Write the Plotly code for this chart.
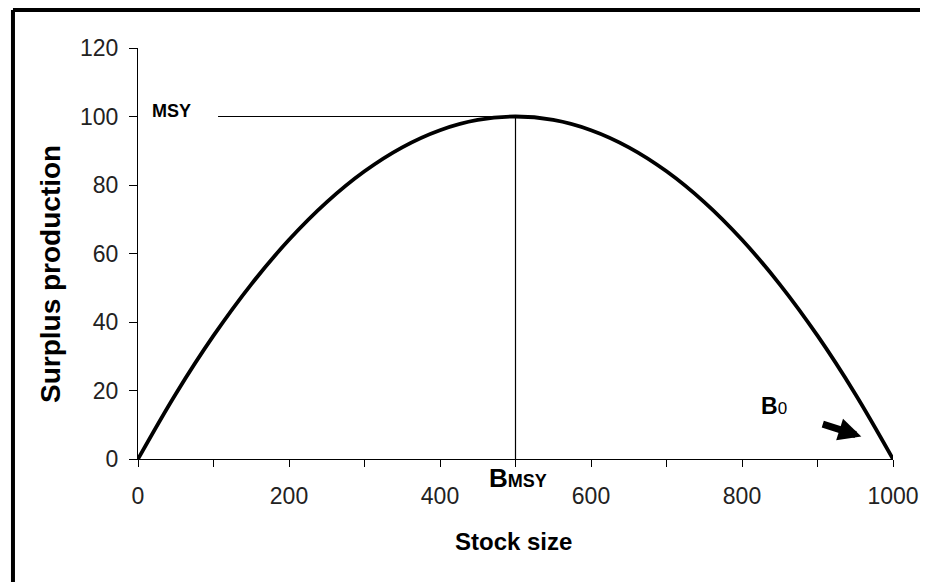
import plotly.graph_objects as go

# surplus production curve
stock_size = [0, 50, 100, 150, 200, 250, 300, 350, 400, 450, 500,
              550, 600, 650, 700, 750, 800, 850, 900, 950, 1000]
surplus = [0, 19, 36, 51, 64, 75, 84, 91, 96, 99, 100,
           99, 96, 91, 84, 75, 64, 51, 36, 19, 0]

msy = 100
b_msy = 500
msy_line_start = 106

x_ticks = [0, 100, 200, 300, 400, 500, 600, 700, 800, 900, 1000]
x_tick_text = ["0", "", "200", "", "400", "", "600", "", "800", "", "1000"]
y_ticks = [0, 20, 40, 60, 80, 100, 120]

TICK_FONT = dict(family="Liberation Sans, Arial, sans-serif", size=23, color="#222222")
BOLD = "Liberation Sans, Arial, sans-serif"

fig = go.Figure()
fig.add_trace(go.Scatter(
    x=stock_size, y=surplus, mode="lines",
    line=dict(color="black", width=3.8, shape="spline"),
    cliponaxis=False, showlegend=False, hoverinfo="skip",
))

# MSY / BMSY reference lines
fig.add_shape(type="line", x0=msy_line_start, x1=b_msy, y0=msy, y1=msy,
              line=dict(color="black", width=1.2))
fig.add_shape(type="line", x0=b_msy, x1=b_msy, y0=0, y1=msy,
              line=dict(color="black", width=1.2))

# outer frame (only top and left edges visible)
fig.add_shape(type="line", xref="paper", yref="paper",
              x0=-0.1656, x1=1.1, y0=1.0925, y1=1.0925,
              line=dict(color="black", width=4))
fig.add_shape(type="line", xref="paper", yref="paper",
              x0=-0.1656, x1=-0.1656, y0=1.0925, y1=-0.4,
              line=dict(color="black", width=4))

fig.add_annotation(x=45, y=101.5, text="<b>MSY</b>", showarrow=False,
                   font=dict(family=BOLD, size=18, color="black"))
fig.add_annotation(x=503, yref="paper", y=-0.046, yanchor="middle",
                   text="<b>B<span style='font-size:18px'>MSY</span></b>",
                   showarrow=False, font=dict(family=BOLD, size=26, color="black"))
fig.add_annotation(x=842, y=15.5, text="<b>B</b><span style='font-size:17px'>0</span>",
                   showarrow=False, font=dict(family=BOLD, size=23, color="black"))
fig.add_annotation(x=958, y=6.6, ax=905, ay=10.3, axref="x", ayref="y",
                   text="", showarrow=True, arrowhead=2, arrowsize=0.65,
                   arrowwidth=7, arrowcolor="black")

# axis titles
fig.add_annotation(xref="paper", yref="paper", x=0.498, y=-0.2,
                   xanchor="center", yanchor="middle",
                   text="<b>Stock size</b>", showarrow=False,
                   font=dict(family=BOLD, size=24, color="black"))
fig.add_annotation(xref="paper", yref="paper", x=-0.1166, y=0.45,
                   xanchor="center", yanchor="middle",
                   text="<b>Surplus production</b>", showarrow=False, textangle=-90,
                   font=dict(family=BOLD, size=28, color="black"))

fig.update_layout(
    width=928, height=582,
    margin=dict(l=130, r=43, t=40, b=131),
    plot_bgcolor="white", paper_bgcolor="white",
    xaxis=dict(range=[0, 1000], tickvals=x_ticks, ticktext=x_tick_text,
               ticks="outside", ticklen=7, tickwidth=1.2, tickcolor="black",
               ticklabelstandoff=9,
               showline=True, linecolor="black", linewidth=1.2, automargin=False,
               showgrid=False, zeroline=False, tickfont=TICK_FONT),
    yaxis=dict(range=[0, 120], tickvals=y_ticks,
               ticks="outside", ticklen=8, tickwidth=1.2, tickcolor="black",
               ticklabelstandoff=6,
               showline=True, linecolor="black", linewidth=1.2, automargin=False,
               showgrid=False, zeroline=False, tickfont=TICK_FONT),
)

fig.write_html("out.html")
